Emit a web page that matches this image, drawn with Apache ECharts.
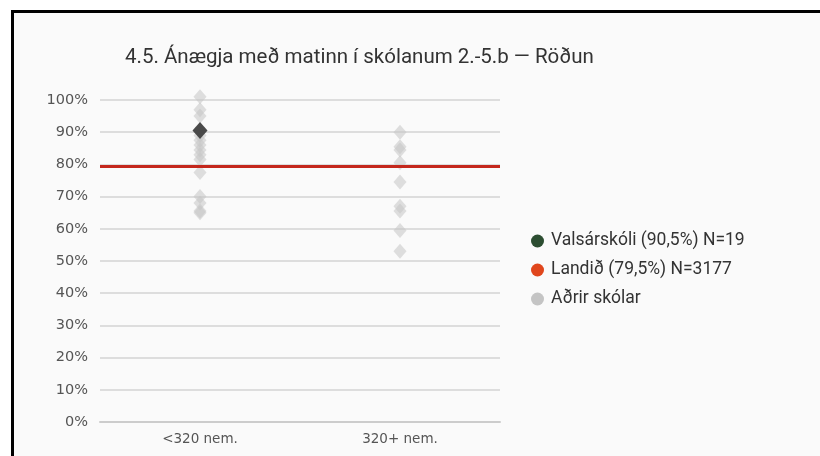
<!DOCTYPE html>
<html>
<head>
<meta charset="utf-8">
<script src="https://cdn.jsdelivr.net/npm/echarts@6/dist/echarts.min.js"></script>
<style>
  html, body { margin: 0; padding: 0; background: #ffffff; }
  #chart { width: 820px; height: 456px; }
</style>
</head>
<body>
<div id="chart"></div>
<script>
// flokkar á x-ás
const categories = ["<320 nem.", "320+ nem."];
const yTicks = [0, 10, 20, 30, 40, 50, 60, 70, 80, 90, 100];

// aðrir skólar (%), lesið af myndinni
const othersSmall = [101, 97, 95, 89, 87.5, 86, 84.5, 83, 81.5, 77.5, 70, 68, 65.5, 65];
const othersLarge = [90, 85.5, 84.5, 80.5, 74.5, 67, 65.5, 59.5, 53];

const schoolName = "Valsárskóli (90,5%) N=19";
const schoolCategory = 0;
const schoolValue = 90.5;

const nationalName = "Landið (79,5%) N=3177";
const nationalValue = 79.5;

const othersName = "Aðrir skólar";

let othersData = [];
othersSmall.forEach(v => othersData.push([0, v]));
othersLarge.forEach(v => othersData.push([1, v]));

const font = "Roboto, 'Noto Sans', sans-serif";
const axisFont = "'DejaVu Sans', sans-serif";

let myChart = echarts.init(document.getElementById("chart"));

myChart.setOption({
  backgroundColor: "#fafafa",
  animation: false,
  title: {
    text: "4.5. Ánægja með matinn í skólanum 2.-5.b — Röðun",
    left: 125,
    top: 47,
    padding: 0,
    textStyle: {
      fontFamily: font,
      fontSize: 20.5,
      fontWeight: "normal",
      color: "#333333"
    }
  },
  // rammi efst og vinstra megin
  graphic: [
    { type: "rect", shape: { x: 0, y: 0, width: 820, height: 10 }, style: { fill: "#ffffff" } },
    { type: "rect", shape: { x: 0, y: 0, width: 11, height: 456 }, style: { fill: "#ffffff" } },
    { type: "rect", shape: { x: 11, y: 10, width: 809, height: 3 }, style: { fill: "#000000" } },
    { type: "rect", shape: { x: 11, y: 10, width: 3, height: 446 }, style: { fill: "#000000" } }
  ],
  grid: {
    left: 100,
    right: 320,
    top: 100,
    bottom: 34
  },
  legend: {
    orient: "vertical",
    left: 526,
    top: 227,
    itemGap: 11,
    itemWidth: 13,
    itemHeight: 13,
    icon: "circle",
    textStyle: {
      fontFamily: font,
      fontSize: 17.5,
      color: "#333333",
      padding: [0, 0, 0, 2]
    },
    data: [
      { name: schoolName, itemStyle: { color: "#2c4d31", opacity: 1 } },
      { name: nationalName, itemStyle: { color: "#e0461c", opacity: 1 } },
      { name: othersName, itemStyle: { color: "#c4c4c4", opacity: 1 } }
    ]
  },
  xAxis: {
    type: "category",
    data: categories,
    boundaryGap: true,
    axisLine: { lineStyle: { color: "#cccccc", width: 2 } },
    axisTick: { show: false },
    axisLabel: {
      fontFamily: axisFont,
      fontSize: 13.5,
      color: "#555555",
      margin: 10
    }
  },
  yAxis: {
    type: "value",
    min: 0,
    max: 100,
    interval: 10,
    axisLine: { show: false },
    axisTick: { show: false },
    axisLabel: {
      fontFamily: axisFont,
      fontSize: 14.5,
      color: "#555555",
      margin: 12,
      formatter: v => yTicks.includes(v) ? v + "%" : ""
    },
    splitLine: { lineStyle: { color: "#dddddd", width: 2 } }
  },
  series: [
    {
      name: othersName,
      type: "scatter",
      symbol: "diamond",
      symbolSize: [13, 15],
      clip: false,
      itemStyle: { color: "#c4c4c4", opacity: 0.55 },
      data: othersData,
      z: 2
    },
    {
      name: nationalName,
      type: "line",
      data: [],
      itemStyle: { color: "#c4271c" },
      markLine: {
        silent: true,
        symbol: "none",
        label: { show: false },
        lineStyle: { color: "#c4271c", width: 3, type: "solid" },
        data: [{ yAxis: nationalValue }]
      },
      z: 3
    },
    {
      name: schoolName,
      type: "scatter",
      symbol: "diamond",
      symbolSize: [15, 17],
      itemStyle: { color: "#4a4a4a", opacity: 1 },
      data: [[schoolCategory, schoolValue]],
      z: 4
    }
  ]
});
</script>
</body>
</html>
